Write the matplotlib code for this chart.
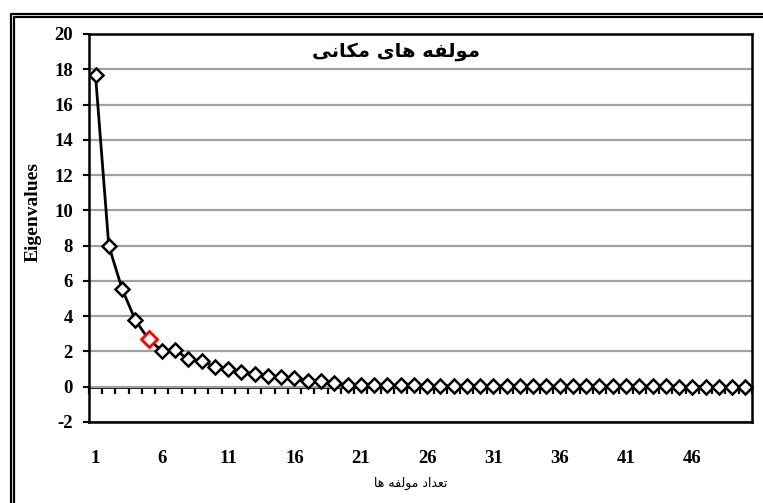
import matplotlib
matplotlib.use("Agg")
import matplotlib.pyplot as plt
from matplotlib.lines import Line2D

# Data
components = list(range(1, 51))
eigenvalues = [
    17.65, 8.0, 5.55, 3.78, 2.69, 2.04, 2.1, 1.55, 1.45, 1.13,
    1.03, 0.82, 0.75, 0.62, 0.53, 0.49, 0.34, 0.3, 0.19, 0.11,
    0.09, 0.08, 0.08, 0.07, 0.07, 0.06, 0.06, 0.05, 0.05, 0.05,
    0.04, 0.04, 0.04, 0.04, 0.03, 0.03, 0.03, 0.03, 0.02, 0.02,
    0.02, 0.02, 0.02, 0.02, 0.01, 0.01, 0.01, 0.01, 0.01, 0.01,
]
highlight_component = 5
y_ticks = list(range(-2, 21, 2))
x_tick_labels = list(range(1, 47, 5))

# Persian text, written with presentation forms in visual order
# (matplotlib does no Arabic shaping on its own)
title_text = "\uFBFD\uFEE7\uFE8E\uFB91\uFEE3 \uFBFC\uFE8E\uFEEB \uFEEA\uFED4\uFEDF\uFEEE\uFEE3"   # مولفه های مکانی
xlabel_text = "\uFE8E\uFEEB \uFEEA\uFED4\uFEDF\uFEEE\uFEE3 \uFEA9\uFE8D\uFEAA\uFECC\uFE97"   # تعداد مولفه ها
ylabel_text = "Eigenvalues"

W, H = 763, 503
SERIF = "Liberation Serif"
plt.rcParams["axes.unicode_minus"] = False


def px(x, y):
    """Pixel position (from top left) -> figure coordinates."""
    return x / W, 1 - y / H


def draw_frame(fig):
    """Double border at the top left of the picture."""
    for x0, y0 in [(11, 14), (14.3, 17)]:
        xs, ys = zip(px(x0, H + 5), px(x0, y0), px(W + 5, y0))
        fig.add_artist(Line2D(xs, ys, transform=fig.transFigure,
                              color="black", lw=1.6))


def main():
    fig = plt.figure(figsize=(W / 100, H / 100), dpi=100)
    left, bottom = px(88.9, 422)
    ax = fig.add_axes([left, bottom, (752 - 88.9) / W, 388 / H])

    ax.set_xlim(0.5, len(components) + 0.5)
    ax.set_ylim(-2, 20)
    ax.set_axisbelow(True)
    ax.yaxis.grid(True, color="#a0a0a0", lw=1.6)

    for s in ax.spines.values():
        s.set_color("black")
        s.set_linewidth(1.8)

    ax.set_yticks(y_ticks)
    ax.tick_params(axis="y", direction="out", length=4.5, width=1.5, pad=7,
                   labelsize=13.5)
    ax.set_xticks(x_tick_labels)
    ax.tick_params(axis="x", length=0, pad=20, labelsize=13.5)
    for lab in ax.get_xticklabels() + ax.get_yticklabels():
        lab.set_fontfamily(SERIF)
        lab.set_fontweight("bold")

    # category axis crossing at zero, ticks between categories
    sec = ax.secondary_xaxis((0 - (-2)) / 22)
    sec.set_xticks([c - 0.5 for c in components] + [components[-1] + 0.5])
    sec.tick_params(direction="out", length=5, width=1.6, labelbottom=False)
    sec.spines["bottom"].set_linewidth(2)
    sec.spines["bottom"].set_color("black")

    ax.plot(components, eigenvalues, color="black", lw=2, marker="D", ms=7,
            mfc="white", mec="black", mew=1.8, zorder=3)
    i = components.index(highlight_component)
    ax.plot(components[i], eigenvalues[i], marker="D", ms=8.5, mfc="white",
            mec="red", mew=2, zorder=4, ls="none")

    ax.text(0.463, 0.954, title_text, transform=ax.transAxes, ha="center",
            va="center", fontsize=14, fontweight="bold", family="DejaVu Sans")
    fig.text(*px(33, 212), ylabel_text, rotation=90, ha="center", va="center",
             fontsize=14, fontweight="bold", family=SERIF)
    fig.text(*px(411, 483), xlabel_text, ha="center", va="center",
             fontsize=9, family="DejaVu Sans")

    draw_frame(fig)
    fig.savefig("out.png", dpi=100)


if __name__ == "__main__":
    main()
